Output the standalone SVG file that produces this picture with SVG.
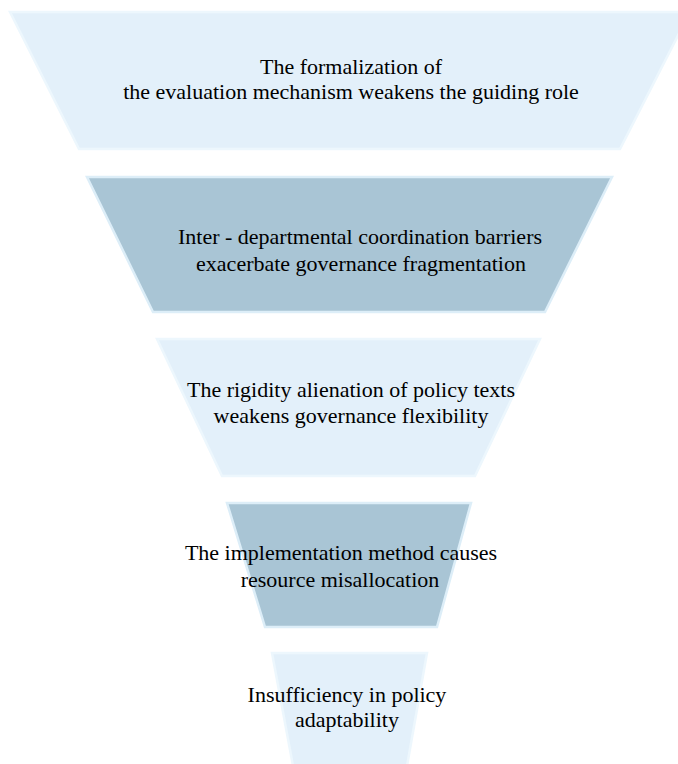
<svg xmlns="http://www.w3.org/2000/svg" width="678" height="764" viewBox="0 0 678 764">
  <style>
    .light { fill: #e3f0fa; stroke: #edf7fd; stroke-width: 2.5; }
    .dark { fill: #a9c5d5; stroke: #ddeef8; stroke-width: 2.5; }
    .label { font-family: "Liberation Serif", "Times New Roman", serif; font-size: 22px; fill: #000; text-anchor: middle; }
  </style>
  <rect width="678" height="764" fill="#ffffff"/>

  <!-- funnel stages, widest at top -->
  <g id="stage1">
    <polygon class="light" points="10,12 690,12 620,149 79,149"/>
    <text class="label" x="351" y="74">The formalization of</text>
    <text class="label" x="351" y="99">the evaluation mechanism weakens the guiding role</text>
  </g>

  <g id="stage2">
    <polygon class="dark" points="87,177 612,177 545,312 153,312"/>
    <text class="label" x="360" y="244">Inter - departmental coordination barriers</text>
    <text class="label" x="361" y="271">exacerbate governance fragmentation</text>
  </g>

  <g id="stage3">
    <polygon class="light" points="157,339 540,339 475,476 222,476"/>
    <text class="label" x="351" y="397">The rigidity alienation of policy texts</text>
    <text class="label" x="351" y="423">weakens governance flexibility</text>
  </g>

  <g id="stage4">
    <polygon class="dark" points="227,503 471,503 437,627 265,627"/>
    <text class="label" x="341" y="560">The implementation method causes</text>
    <text class="label" x="340" y="587">resource misallocation</text>
  </g>

  <g id="stage5">
    <polygon class="light" points="272,653 427,653 407,766 293,766"/>
    <text class="label" x="347" y="702">Insufficiency in policy</text>
    <text class="label" x="347" y="727">adaptability</text>
  </g>

  <g id="connectors"/>
</svg>
